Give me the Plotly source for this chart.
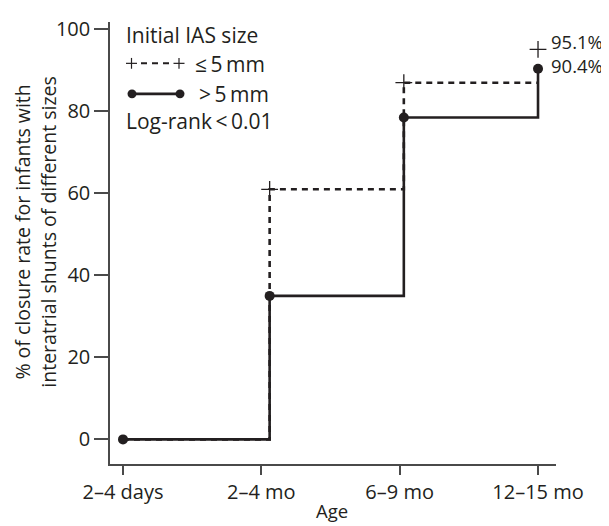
import plotly.graph_objects as go

# ---- data ----
age_labels = ["2\u20134 days", "2\u20134 mo", "6\u20139 mo", "12\u201315 mo"]
tick_pos = [0, 1, 2, 3]
event_time = [0, 1.06, 2.03, 3.0]          # time at which each step occurs
small_ias = [0, 61, 87, 95.1]              # <= 5 mm, % closed
large_ias = [0, 35, 78.5, 90.4]            # > 5 mm, % closed
y_ticks = [0, 20, 40, 60, 80, 100]

INK = "#231f20"
AX = "#4a4a4a"
FONT = "Open Sans"

OFF = 8                       # page body margin
W_, H_ = 609 - OFF, 526 - OFF
# plot area in screen pixels
SL, SR, ST, SB = 110, 556, 15, 464
L, R, T, B = SL - OFF, SR - OFF, ST - OFF, SB - OFF


def px(x):
    return (x - SL) / (SR - SL)


def py(y):
    return (SB - y) / (SB - ST)


fig = go.Figure()

# dashed (<=5 mm)
fig.add_trace(go.Scatter(
    x=event_time[:3] + [event_time[3]],
    y=small_ias[:3] + [small_ias[2]],
    mode="lines", line=dict(color=INK, width=2.6, dash="6px,5px", shape="hv"),
    hoverinfo="skip", showlegend=False))
fig.add_trace(go.Scatter(
    x=event_time[1:], y=small_ias[1:], mode="markers",
    marker=dict(symbol="cross-thin", size=12, line=dict(color=INK, width=1.3)),
    showlegend=False, cliponaxis=False))

# solid (>5 mm)
fig.add_trace(go.Scatter(
    x=event_time, y=large_ias, mode="lines+markers",
    line=dict(color=INK, width=2.6, shape="hv"),
    marker=dict(symbol="circle", size=10, color=INK),
    showlegend=False, cliponaxis=False))

# end labels (stacked, one text block)
fig.add_annotation(x=event_time[3], y=(small_ias[3] + large_ias[3]) / 2, xref="x", yref="y",
                   text=f"{small_ias[3]}%<br>{large_ias[3]}%", showarrow=False,
                   xanchor="left", align="left", xshift=11, yshift=6,
                   font=dict(size=18.5, color=INK, family=FONT))

# legend block
tf = dict(size=21, color=INK, family=FONT)
fig.add_annotation(x=px(124), y=py(28), xref="paper", yref="paper", text="Initial IAS size",
                   showarrow=False, xanchor="left", yanchor="middle", font=tf)
fig.add_annotation(x=px(193), y=py(58), xref="paper", yref="paper", text="\u2264\u20095\u2009mm",
                   showarrow=False, xanchor="left", yanchor="middle", font=tf)
fig.add_annotation(x=px(197), y=py(88), xref="paper", yref="paper", text=">\u20095\u2009mm",
                   showarrow=False, xanchor="left", yanchor="middle", font=tf)
fig.add_annotation(x=px(124), y=py(116), xref="paper", yref="paper", text="Log-rank\u2009<\u20090.01",
                   showarrow=False, xanchor="left", yanchor="middle", font=tf)

shapes = []
shapes.append(dict(type="line", xref="paper", yref="paper", x0=px(141), x1=px(173), y0=py(57), y1=py(57),
                   line=dict(color=INK, width=2, dash="6px,5px")))
for cx in (131.5, 179):
    shapes.append(dict(type="line", xref="paper", yref="paper", x0=px(cx - 5.5), x1=px(cx + 5.5),
                       y0=py(57), y1=py(57), line=dict(color=INK, width=1.2)))
    shapes.append(dict(type="line", xref="paper", yref="paper", x0=px(cx), x1=px(cx),
                       y0=py(51.5), y1=py(62.5), line=dict(color=INK, width=1.2)))
shapes.append(dict(type="line", xref="paper", yref="paper", x0=px(132), x1=px(180), y0=py(88), y1=py(88),
                   line=dict(color=INK, width=2.6)))
for cx in (132, 180):
    shapes.append(dict(type="circle", xref="paper", yref="paper", x0=px(cx - 4.5), x1=px(cx + 4.5),
                       y0=py(92.5), y1=py(83.5), fillcolor=INK, line=dict(color=INK, width=0)))

# axis titles
fig.add_annotation(x=px(35), y=py(228), xref="paper", yref="paper",
                   text="% of closure rate for infants with<br>interatrial shunts of different sizes",
                   showarrow=False, textangle=-90, xanchor="center", yanchor="middle",
                   font=dict(size=19.5, color=INK, family=FONT))
fig.add_annotation(x=px(332), y=py(496), xref="paper", yref="paper", text="Age",
                   showarrow=False, xanchor="center", yanchor="top",
                   font=dict(size=18.5, color=INK, family=FONT))

fig.update_layout(
    width=W_, height=H_,
    margin=dict(l=L, r=W_ - R, t=T, b=H_ - B),
    paper_bgcolor="white", plot_bgcolor="white",
    shapes=shapes,
    font=dict(family=FONT, color=INK, size=20),
)
fig.update_xaxes(range=[-0.094, 3.13], tickvals=tick_pos, ticktext=age_labels,
                 showline=True, linecolor=AX, linewidth=1.5,
                 ticks="outside", ticklen=9, tickwidth=1.5, tickcolor=AX,
                 showgrid=False, zeroline=False, tickfont=dict(size=20, color=INK, family=FONT))
fig.update_yaxes(range=[-6, 101.8], tickvals=y_ticks,
                 showline=True, linecolor=AX, linewidth=1.5,
                 ticks="outside", ticklen=14, tickwidth=1.5, tickcolor=AX,
                 showgrid=False, zeroline=False, tickfont=dict(size=20, color=INK, family=FONT))

fig.write_html("out.html")
